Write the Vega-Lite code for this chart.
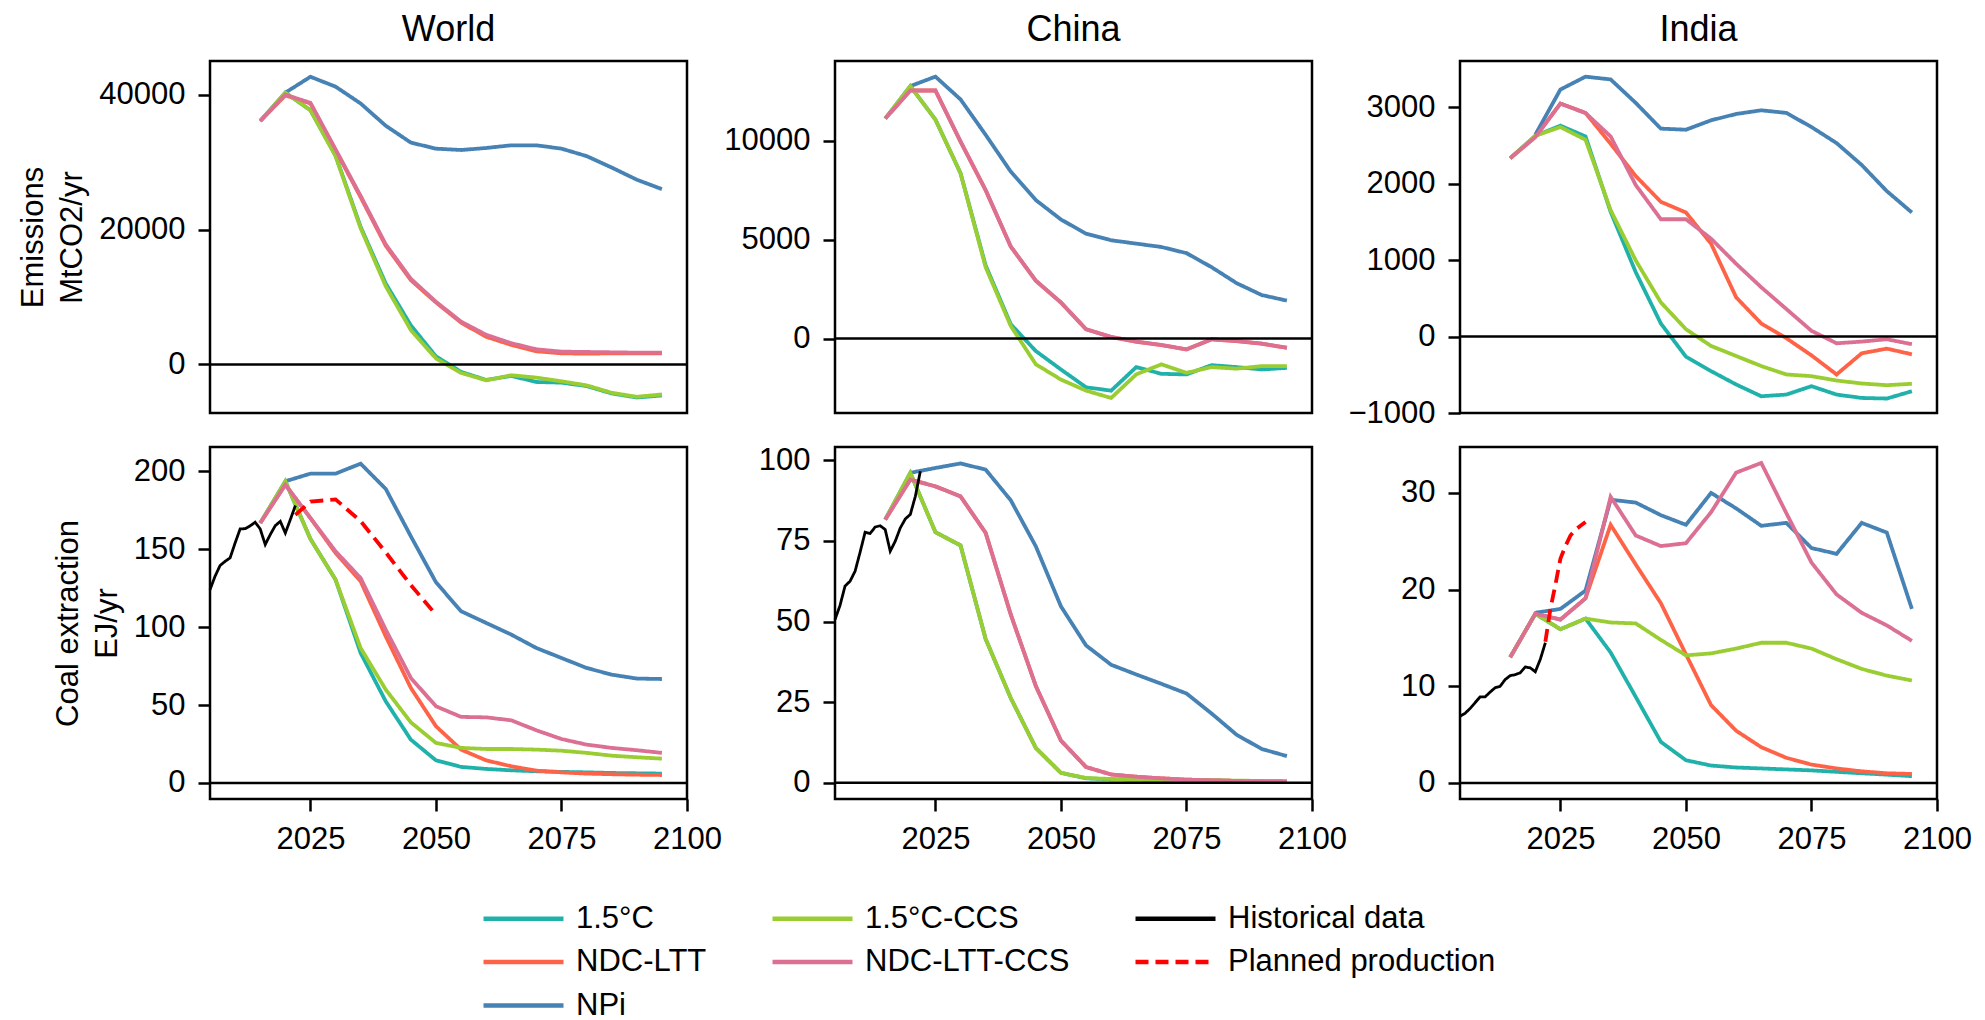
{
"$schema":"https://vega.github.io/schema/vega-lite/v6.json",
"padding":{"left":16,"top":10,"right":5,"bottom":5},
"background":"white",
"config":{
 "font":"Liberation Sans",
 "view":{"stroke":"black","strokeWidth":2.5},
 "axis":{"grid":false,"domain":false,"tickColor":"black","tickWidth":2.5,"tickSize":12,"labelFontSize":31,"labelColor":"black","labelFont":"Liberation Sans","labelPadding":13,"labelFlush":false,"titleFontSize":31,"titleFontWeight":"normal","titleColor":"black","titleFont":"Liberation Sans","titlePadding":10,"titleLineHeight":39,"format":"d"},
 "title":{"fontSize":36,"fontWeight":"normal","color":"black","font":"Liberation Sans","offset":12},
 "legend":{"labelFontSize":31,"labelColor":"black","labelFont":"Liberation Sans","labelLimit":0,"symbolType":"M-4,0H4","symbolSize":400,"symbolStrokeWidth":4.5,"labelOffset":37,"rowPadding":11.5,"columnPadding":56,"padding":0}
},
"datasets":{"d":[
{"region":"World","var":"E","scen":"1.5°C","year":2015,"val":36100},{"region":"World","var":"E","scen":"1.5°C","year":2020,"val":40300},{"region":"World","var":"E","scen":"1.5°C","year":2025,"val":37700},{"region":"World","var":"E","scen":"1.5°C","year":2030,"val":31000},{"region":"World","var":"E","scen":"1.5°C","year":2035,"val":20400},{"region":"World","var":"E","scen":"1.5°C","year":2040,"val":12000},{"region":"World","var":"E","scen":"1.5°C","year":2045,"val":5800},{"region":"World","var":"E","scen":"1.5°C","year":2050,"val":1200},{"region":"World","var":"E","scen":"1.5°C","year":2055,"val":-1100},{"region":"World","var":"E","scen":"1.5°C","year":2060,"val":-2300},{"region":"World","var":"E","scen":"1.5°C","year":2065,"val":-1700},{"region":"World","var":"E","scen":"1.5°C","year":2070,"val":-2600},{"region":"World","var":"E","scen":"1.5°C","year":2075,"val":-2700},{"region":"World","var":"E","scen":"1.5°C","year":2080,"val":-3200},{"region":"World","var":"E","scen":"1.5°C","year":2085,"val":-4300},{"region":"World","var":"E","scen":"1.5°C","year":2090,"val":-4900},{"region":"World","var":"E","scen":"1.5°C","year":2095,"val":-4600},
{"region":"World","var":"E","scen":"NDC-LTT","year":2015,"val":36100},{"region":"World","var":"E","scen":"NDC-LTT","year":2020,"val":39900},{"region":"World","var":"E","scen":"NDC-LTT","year":2025,"val":38700},{"region":"World","var":"E","scen":"NDC-LTT","year":2030,"val":31800},{"region":"World","var":"E","scen":"NDC-LTT","year":2035,"val":24800},{"region":"World","var":"E","scen":"NDC-LTT","year":2040,"val":17600},{"region":"World","var":"E","scen":"NDC-LTT","year":2045,"val":12500},{"region":"World","var":"E","scen":"NDC-LTT","year":2050,"val":9200},{"region":"World","var":"E","scen":"NDC-LTT","year":2055,"val":6200},{"region":"World","var":"E","scen":"NDC-LTT","year":2060,"val":4100},{"region":"World","var":"E","scen":"NDC-LTT","year":2065,"val":2900},{"region":"World","var":"E","scen":"NDC-LTT","year":2070,"val":1950},{"region":"World","var":"E","scen":"NDC-LTT","year":2075,"val":1650},{"region":"World","var":"E","scen":"NDC-LTT","year":2080,"val":1600},{"region":"World","var":"E","scen":"NDC-LTT","year":2085,"val":1650},{"region":"World","var":"E","scen":"NDC-LTT","year":2090,"val":1650},{"region":"World","var":"E","scen":"NDC-LTT","year":2095,"val":1650},
{"region":"World","var":"E","scen":"NPi","year":2020,"val":40300},{"region":"World","var":"E","scen":"NPi","year":2025,"val":42660},{"region":"World","var":"E","scen":"NPi","year":2030,"val":41200},{"region":"World","var":"E","scen":"NPi","year":2035,"val":38700},{"region":"World","var":"E","scen":"NPi","year":2040,"val":35400},{"region":"World","var":"E","scen":"NPi","year":2045,"val":32900},{"region":"World","var":"E","scen":"NPi","year":2050,"val":32000},{"region":"World","var":"E","scen":"NPi","year":2055,"val":31800},{"region":"World","var":"E","scen":"NPi","year":2060,"val":32100},{"region":"World","var":"E","scen":"NPi","year":2065,"val":32500},{"region":"World","var":"E","scen":"NPi","year":2070,"val":32500},{"region":"World","var":"E","scen":"NPi","year":2075,"val":32000},{"region":"World","var":"E","scen":"NPi","year":2080,"val":30900},{"region":"World","var":"E","scen":"NPi","year":2085,"val":29200},{"region":"World","var":"E","scen":"NPi","year":2090,"val":27400},{"region":"World","var":"E","scen":"NPi","year":2095,"val":26000},
{"region":"World","var":"E","scen":"1.5°C-CCS","year":2015,"val":36100},{"region":"World","var":"E","scen":"1.5°C-CCS","year":2020,"val":40300},{"region":"World","var":"E","scen":"1.5°C-CCS","year":2025,"val":37700},{"region":"World","var":"E","scen":"1.5°C-CCS","year":2030,"val":30900},{"region":"World","var":"E","scen":"1.5°C-CCS","year":2035,"val":20200},{"region":"World","var":"E","scen":"1.5°C-CCS","year":2040,"val":11600},{"region":"World","var":"E","scen":"1.5°C-CCS","year":2045,"val":5100},{"region":"World","var":"E","scen":"1.5°C-CCS","year":2050,"val":900},{"region":"World","var":"E","scen":"1.5°C-CCS","year":2055,"val":-1250},{"region":"World","var":"E","scen":"1.5°C-CCS","year":2060,"val":-2350},{"region":"World","var":"E","scen":"1.5°C-CCS","year":2065,"val":-1600},{"region":"World","var":"E","scen":"1.5°C-CCS","year":2070,"val":-1950},{"region":"World","var":"E","scen":"1.5°C-CCS","year":2075,"val":-2500},{"region":"World","var":"E","scen":"1.5°C-CCS","year":2080,"val":-3100},{"region":"World","var":"E","scen":"1.5°C-CCS","year":2085,"val":-4200},{"region":"World","var":"E","scen":"1.5°C-CCS","year":2090,"val":-4800},{"region":"World","var":"E","scen":"1.5°C-CCS","year":2095,"val":-4450},
{"region":"World","var":"E","scen":"NDC-LTT-CCS","year":2015,"val":36100},{"region":"World","var":"E","scen":"NDC-LTT-CCS","year":2020,"val":40000},{"region":"World","var":"E","scen":"NDC-LTT-CCS","year":2025,"val":38800},{"region":"World","var":"E","scen":"NDC-LTT-CCS","year":2030,"val":31900},{"region":"World","var":"E","scen":"NDC-LTT-CCS","year":2035,"val":25000},{"region":"World","var":"E","scen":"NDC-LTT-CCS","year":2040,"val":17800},{"region":"World","var":"E","scen":"NDC-LTT-CCS","year":2045,"val":12700},{"region":"World","var":"E","scen":"NDC-LTT-CCS","year":2050,"val":9300},{"region":"World","var":"E","scen":"NDC-LTT-CCS","year":2055,"val":6350},{"region":"World","var":"E","scen":"NDC-LTT-CCS","year":2060,"val":4400},{"region":"World","var":"E","scen":"NDC-LTT-CCS","year":2065,"val":3150},{"region":"World","var":"E","scen":"NDC-LTT-CCS","year":2070,"val":2250},{"region":"World","var":"E","scen":"NDC-LTT-CCS","year":2075,"val":1900},{"region":"World","var":"E","scen":"NDC-LTT-CCS","year":2080,"val":1850},{"region":"World","var":"E","scen":"NDC-LTT-CCS","year":2085,"val":1800},{"region":"World","var":"E","scen":"NDC-LTT-CCS","year":2090,"val":1750},{"region":"World","var":"E","scen":"NDC-LTT-CCS","year":2095,"val":1750},

{"region":"China","var":"E","scen":"1.5°C","year":2015,"val":11120},{"region":"China","var":"E","scen":"1.5°C","year":2020,"val":12760},{"region":"China","var":"E","scen":"1.5°C","year":2025,"val":11070},{"region":"China","var":"E","scen":"1.5°C","year":2030,"val":8360},{"region":"China","var":"E","scen":"1.5°C","year":2035,"val":3700},{"region":"China","var":"E","scen":"1.5°C","year":2040,"val":730},{"region":"China","var":"E","scen":"1.5°C","year":2045,"val":-630},{"region":"China","var":"E","scen":"1.5°C","year":2050,"val":-1560},{"region":"China","var":"E","scen":"1.5°C","year":2055,"val":-2460},{"region":"China","var":"E","scen":"1.5°C","year":2060,"val":-2630},{"region":"China","var":"E","scen":"1.5°C","year":2065,"val":-1440},{"region":"China","var":"E","scen":"1.5°C","year":2070,"val":-1780},{"region":"China","var":"E","scen":"1.5°C","year":2075,"val":-1810},{"region":"China","var":"E","scen":"1.5°C","year":2080,"val":-1340},{"region":"China","var":"E","scen":"1.5°C","year":2085,"val":-1440},{"region":"China","var":"E","scen":"1.5°C","year":2090,"val":-1560},{"region":"China","var":"E","scen":"1.5°C","year":2095,"val":-1480},
{"region":"China","var":"E","scen":"NDC-LTT","year":2015,"val":11120},{"region":"China","var":"E","scen":"NDC-LTT","year":2020,"val":12540},{"region":"China","var":"E","scen":"NDC-LTT","year":2025,"val":12540},{"region":"China","var":"E","scen":"NDC-LTT","year":2030,"val":9950},{"region":"China","var":"E","scen":"NDC-LTT","year":2035,"val":7500},{"region":"China","var":"E","scen":"NDC-LTT","year":2040,"val":4650},{"region":"China","var":"E","scen":"NDC-LTT","year":2045,"val":2920},{"region":"China","var":"E","scen":"NDC-LTT","year":2050,"val":1820},{"region":"China","var":"E","scen":"NDC-LTT","year":2055,"val":470},{"region":"China","var":"E","scen":"NDC-LTT","year":2060,"val":80},{"region":"China","var":"E","scen":"NDC-LTT","year":2065,"val":-160},{"region":"China","var":"E","scen":"NDC-LTT","year":2070,"val":-330},{"region":"China","var":"E","scen":"NDC-LTT","year":2075,"val":-550},{"region":"China","var":"E","scen":"NDC-LTT","year":2080,"val":-40},{"region":"China","var":"E","scen":"NDC-LTT","year":2085,"val":-130},{"region":"China","var":"E","scen":"NDC-LTT","year":2090,"val":-260},{"region":"China","var":"E","scen":"NDC-LTT","year":2095,"val":-470},
{"region":"China","var":"E","scen":"NPi","year":2020,"val":12760},{"region":"China","var":"E","scen":"NPi","year":2025,"val":13240},{"region":"China","var":"E","scen":"NPi","year":2030,"val":12090},{"region":"China","var":"E","scen":"NPi","year":2035,"val":10300},{"region":"China","var":"E","scen":"NPi","year":2040,"val":8440},{"region":"China","var":"E","scen":"NPi","year":2045,"val":7000},{"region":"China","var":"E","scen":"NPi","year":2050,"val":6020},{"region":"China","var":"E","scen":"NPi","year":2055,"val":5300},{"region":"China","var":"E","scen":"NPi","year":2060,"val":4970},{"region":"China","var":"E","scen":"NPi","year":2065,"val":4800},{"region":"China","var":"E","scen":"NPi","year":2070,"val":4630},{"region":"China","var":"E","scen":"NPi","year":2075,"val":4320},{"region":"China","var":"E","scen":"NPi","year":2080,"val":3610},{"region":"China","var":"E","scen":"NPi","year":2085,"val":2800},{"region":"China","var":"E","scen":"NPi","year":2090,"val":2200},{"region":"China","var":"E","scen":"NPi","year":2095,"val":1920},
{"region":"China","var":"E","scen":"1.5°C-CCS","year":2015,"val":11120},{"region":"China","var":"E","scen":"1.5°C-CCS","year":2020,"val":12760},{"region":"China","var":"E","scen":"1.5°C-CCS","year":2025,"val":11070},{"region":"China","var":"E","scen":"1.5°C-CCS","year":2030,"val":8360},{"region":"China","var":"E","scen":"1.5°C-CCS","year":2035,"val":3610},{"region":"China","var":"E","scen":"1.5°C-CCS","year":2040,"val":640},{"region":"China","var":"E","scen":"1.5°C-CCS","year":2045,"val":-1300},{"region":"China","var":"E","scen":"1.5°C-CCS","year":2050,"val":-2070},{"region":"China","var":"E","scen":"1.5°C-CCS","year":2055,"val":-2630},{"region":"China","var":"E","scen":"1.5°C-CCS","year":2060,"val":-3000},{"region":"China","var":"E","scen":"1.5°C-CCS","year":2065,"val":-1810},{"region":"China","var":"E","scen":"1.5°C-CCS","year":2070,"val":-1300},{"region":"China","var":"E","scen":"1.5°C-CCS","year":2075,"val":-1730},{"region":"China","var":"E","scen":"1.5°C-CCS","year":2080,"val":-1440},{"region":"China","var":"E","scen":"1.5°C-CCS","year":2085,"val":-1520},{"region":"China","var":"E","scen":"1.5°C-CCS","year":2090,"val":-1390},{"region":"China","var":"E","scen":"1.5°C-CCS","year":2095,"val":-1390},
{"region":"China","var":"E","scen":"NDC-LTT-CCS","year":2015,"val":11120},{"region":"China","var":"E","scen":"NDC-LTT-CCS","year":2020,"val":12540},{"region":"China","var":"E","scen":"NDC-LTT-CCS","year":2025,"val":12540},{"region":"China","var":"E","scen":"NDC-LTT-CCS","year":2030,"val":9970},{"region":"China","var":"E","scen":"NDC-LTT-CCS","year":2035,"val":7510},{"region":"China","var":"E","scen":"NDC-LTT-CCS","year":2040,"val":4660},{"region":"China","var":"E","scen":"NDC-LTT-CCS","year":2045,"val":2930},{"region":"China","var":"E","scen":"NDC-LTT-CCS","year":2050,"val":1830},{"region":"China","var":"E","scen":"NDC-LTT-CCS","year":2055,"val":475},{"region":"China","var":"E","scen":"NDC-LTT-CCS","year":2060,"val":85},{"region":"China","var":"E","scen":"NDC-LTT-CCS","year":2065,"val":-150},{"region":"China","var":"E","scen":"NDC-LTT-CCS","year":2070,"val":-320},{"region":"China","var":"E","scen":"NDC-LTT-CCS","year":2075,"val":-540},{"region":"China","var":"E","scen":"NDC-LTT-CCS","year":2080,"val":-35},{"region":"China","var":"E","scen":"NDC-LTT-CCS","year":2085,"val":-120},{"region":"China","var":"E","scen":"NDC-LTT-CCS","year":2090,"val":-250},{"region":"China","var":"E","scen":"NDC-LTT-CCS","year":2095,"val":-460},

{"region":"India","var":"E","scen":"1.5°C","year":2015,"val":2333},{"region":"India","var":"E","scen":"1.5°C","year":2020,"val":2627},{"region":"India","var":"E","scen":"1.5°C","year":2025,"val":2759},{"region":"India","var":"E","scen":"1.5°C","year":2030,"val":2618},{"region":"India","var":"E","scen":"1.5°C","year":2035,"val":1632},{"region":"India","var":"E","scen":"1.5°C","year":2040,"val":842},{"region":"India","var":"E","scen":"1.5°C","year":2045,"val":171},{"region":"India","var":"E","scen":"1.5°C","year":2050,"val":-263},{"region":"India","var":"E","scen":"1.5°C","year":2055,"val":-452},{"region":"India","var":"E","scen":"1.5°C","year":2060,"val":-627},{"region":"India","var":"E","scen":"1.5°C","year":2065,"val":-781},{"region":"India","var":"E","scen":"1.5°C","year":2070,"val":-759},{"region":"India","var":"E","scen":"1.5°C","year":2075,"val":-649},{"region":"India","var":"E","scen":"1.5°C","year":2080,"val":-759},{"region":"India","var":"E","scen":"1.5°C","year":2085,"val":-803},{"region":"India","var":"E","scen":"1.5°C","year":2090,"val":-811},{"region":"India","var":"E","scen":"1.5°C","year":2095,"val":-715},
{"region":"India","var":"E","scen":"NDC-LTT","year":2015,"val":2333},{"region":"India","var":"E","scen":"NDC-LTT","year":2020,"val":2610},{"region":"India","var":"E","scen":"NDC-LTT","year":2025,"val":3048},{"region":"India","var":"E","scen":"NDC-LTT","year":2030,"val":2925},{"region":"India","var":"E","scen":"NDC-LTT","year":2035,"val":2522},{"region":"India","var":"E","scen":"NDC-LTT","year":2040,"val":2100},{"region":"India","var":"E","scen":"NDC-LTT","year":2045,"val":1763},{"region":"India","var":"E","scen":"NDC-LTT","year":2050,"val":1623},{"region":"India","var":"E","scen":"NDC-LTT","year":2055,"val":1215},{"region":"India","var":"E","scen":"NDC-LTT","year":2060,"val":513},{"region":"India","var":"E","scen":"NDC-LTT","year":2065,"val":171},{"region":"India","var":"E","scen":"NDC-LTT","year":2070,"val":-22},{"region":"India","var":"E","scen":"NDC-LTT","year":2075,"val":-246},{"region":"India","var":"E","scen":"NDC-LTT","year":2080,"val":-496},{"region":"India","var":"E","scen":"NDC-LTT","year":2085,"val":-219},{"region":"India","var":"E","scen":"NDC-LTT","year":2090,"val":-158},{"region":"India","var":"E","scen":"NDC-LTT","year":2095,"val":-232},
{"region":"India","var":"E","scen":"NPi","year":2020,"val":2640},{"region":"India","var":"E","scen":"NPi","year":2025,"val":3232},{"region":"India","var":"E","scen":"NPi","year":2030,"val":3400},{"region":"India","var":"E","scen":"NPi","year":2035,"val":3364},{"region":"India","var":"E","scen":"NPi","year":2040,"val":3057},{"region":"India","var":"E","scen":"NPi","year":2045,"val":2720},{"region":"India","var":"E","scen":"NPi","year":2050,"val":2706},{"region":"India","var":"E","scen":"NPi","year":2055,"val":2829},{"region":"India","var":"E","scen":"NPi","year":2060,"val":2912},{"region":"India","var":"E","scen":"NPi","year":2065,"val":2960},{"region":"India","var":"E","scen":"NPi","year":2070,"val":2926},{"region":"India","var":"E","scen":"NPi","year":2075,"val":2741},{"region":"India","var":"E","scen":"NPi","year":2080,"val":2531},{"region":"India","var":"E","scen":"NPi","year":2085,"val":2245},{"region":"India","var":"E","scen":"NPi","year":2090,"val":1903},{"region":"India","var":"E","scen":"NPi","year":2095,"val":1623},
{"region":"India","var":"E","scen":"1.5°C-CCS","year":2015,"val":2333},{"region":"India","var":"E","scen":"1.5°C-CCS","year":2020,"val":2627},{"region":"India","var":"E","scen":"1.5°C-CCS","year":2025,"val":2741},{"region":"India","var":"E","scen":"1.5°C-CCS","year":2030,"val":2575},{"region":"India","var":"E","scen":"1.5°C-CCS","year":2035,"val":1654},{"region":"India","var":"E","scen":"1.5°C-CCS","year":2040,"val":996},{"region":"India","var":"E","scen":"1.5°C-CCS","year":2045,"val":447},{"region":"India","var":"E","scen":"1.5°C-CCS","year":2050,"val":96},{"region":"India","var":"E","scen":"1.5°C-CCS","year":2055,"val":-123},{"region":"India","var":"E","scen":"1.5°C-CCS","year":2060,"val":-254},{"region":"India","var":"E","scen":"1.5°C-CCS","year":2065,"val":-386},{"region":"India","var":"E","scen":"1.5°C-CCS","year":2070,"val":-496},{"region":"India","var":"E","scen":"1.5°C-CCS","year":2075,"val":-518},{"region":"India","var":"E","scen":"1.5°C-CCS","year":2080,"val":-575},{"region":"India","var":"E","scen":"1.5°C-CCS","year":2085,"val":-614},{"region":"India","var":"E","scen":"1.5°C-CCS","year":2090,"val":-636},{"region":"India","var":"E","scen":"1.5°C-CCS","year":2095,"val":-618},
{"region":"India","var":"E","scen":"NDC-LTT-CCS","year":2015,"val":2333},{"region":"India","var":"E","scen":"NDC-LTT-CCS","year":2020,"val":2610},{"region":"India","var":"E","scen":"NDC-LTT-CCS","year":2025,"val":3048},{"region":"India","var":"E","scen":"NDC-LTT-CCS","year":2030,"val":2925},{"region":"India","var":"E","scen":"NDC-LTT-CCS","year":2035,"val":2618},{"region":"India","var":"E","scen":"NDC-LTT-CCS","year":2040,"val":1982},{"region":"India","var":"E","scen":"NDC-LTT-CCS","year":2045,"val":1535},{"region":"India","var":"E","scen":"NDC-LTT-CCS","year":2050,"val":1535},{"region":"India","var":"E","scen":"NDC-LTT-CCS","year":2055,"val":1281},{"region":"India","var":"E","scen":"NDC-LTT-CCS","year":2060,"val":952},{"region":"India","var":"E","scen":"NDC-LTT-CCS","year":2065,"val":645},{"region":"India","var":"E","scen":"NDC-LTT-CCS","year":2070,"val":360},{"region":"India","var":"E","scen":"NDC-LTT-CCS","year":2075,"val":75},{"region":"India","var":"E","scen":"NDC-LTT-CCS","year":2080,"val":-88},{"region":"India","var":"E","scen":"NDC-LTT-CCS","year":2085,"val":-66},{"region":"India","var":"E","scen":"NDC-LTT-CCS","year":2090,"val":-35},{"region":"India","var":"E","scen":"NDC-LTT-CCS","year":2095,"val":-100},

{"region":"World","var":"C","scen":"1.5°C","year":2015,"val":166.8},{"region":"World","var":"C","scen":"1.5°C","year":2020,"val":193.6},{"region":"World","var":"C","scen":"1.5°C","year":2025,"val":156.6},{"region":"World","var":"C","scen":"1.5°C","year":2030,"val":130.5},{"region":"World","var":"C","scen":"1.5°C","year":2035,"val":83.4},{"region":"World","var":"C","scen":"1.5°C","year":2040,"val":52.4},{"region":"World","var":"C","scen":"1.5°C","year":2045,"val":27.8},{"region":"World","var":"C","scen":"1.5°C","year":2050,"val":14.5},{"region":"World","var":"C","scen":"1.5°C","year":2055,"val":10.3},{"region":"World","var":"C","scen":"1.5°C","year":2060,"val":9},{"region":"World","var":"C","scen":"1.5°C","year":2065,"val":8.1},{"region":"World","var":"C","scen":"1.5°C","year":2070,"val":7.5},{"region":"World","var":"C","scen":"1.5°C","year":2075,"val":7.1},{"region":"World","var":"C","scen":"1.5°C","year":2080,"val":6.8},{"region":"World","var":"C","scen":"1.5°C","year":2085,"val":6.4},{"region":"World","var":"C","scen":"1.5°C","year":2090,"val":6.2},{"region":"World","var":"C","scen":"1.5°C","year":2095,"val":6},
{"region":"World","var":"C","scen":"NDC-LTT","year":2015,"val":166.8},{"region":"World","var":"C","scen":"NDC-LTT","year":2020,"val":191.4},{"region":"World","var":"C","scen":"NDC-LTT","year":2025,"val":170},{"region":"World","var":"C","scen":"NDC-LTT","year":2030,"val":147.6},{"region":"World","var":"C","scen":"NDC-LTT","year":2035,"val":129.4},{"region":"World","var":"C","scen":"NDC-LTT","year":2040,"val":94.1},{"region":"World","var":"C","scen":"NDC-LTT","year":2045,"val":61},{"region":"World","var":"C","scen":"NDC-LTT","year":2050,"val":36.4},{"region":"World","var":"C","scen":"NDC-LTT","year":2055,"val":21.4},{"region":"World","var":"C","scen":"NDC-LTT","year":2060,"val":14.5},{"region":"World","var":"C","scen":"NDC-LTT","year":2065,"val":10.7},{"region":"World","var":"C","scen":"NDC-LTT","year":2070,"val":7.9},{"region":"World","var":"C","scen":"NDC-LTT","year":2075,"val":6.8},{"region":"World","var":"C","scen":"NDC-LTT","year":2080,"val":6},{"region":"World","var":"C","scen":"NDC-LTT","year":2085,"val":5.6},{"region":"World","var":"C","scen":"NDC-LTT","year":2090,"val":5.3},{"region":"World","var":"C","scen":"NDC-LTT","year":2095,"val":5.1},
{"region":"World","var":"C","scen":"NPi","year":2020,"val":193.6},{"region":"World","var":"C","scen":"NPi","year":2025,"val":198.5},{"region":"World","var":"C","scen":"NPi","year":2030,"val":198.5},{"region":"World","var":"C","scen":"NPi","year":2035,"val":204.9},{"region":"World","var":"C","scen":"NPi","year":2040,"val":188.7},{"region":"World","var":"C","scen":"NPi","year":2045,"val":158.3},{"region":"World","var":"C","scen":"NPi","year":2050,"val":128.8},{"region":"World","var":"C","scen":"NPi","year":2055,"val":110.2},{"region":"World","var":"C","scen":"NPi","year":2060,"val":102.7},{"region":"World","var":"C","scen":"NPi","year":2065,"val":95.2},{"region":"World","var":"C","scen":"NPi","year":2070,"val":86.6},{"region":"World","var":"C","scen":"NPi","year":2075,"val":80.2},{"region":"World","var":"C","scen":"NPi","year":2080,"val":73.8},{"region":"World","var":"C","scen":"NPi","year":2085,"val":69.5},{"region":"World","var":"C","scen":"NPi","year":2090,"val":67},{"region":"World","var":"C","scen":"NPi","year":2095,"val":66.7},
{"region":"World","var":"C","scen":"1.5°C-CCS","year":2015,"val":166.8},{"region":"World","var":"C","scen":"1.5°C-CCS","year":2020,"val":193.6},{"region":"World","var":"C","scen":"1.5°C-CCS","year":2025,"val":156.6},{"region":"World","var":"C","scen":"1.5°C-CCS","year":2030,"val":130.5},{"region":"World","var":"C","scen":"1.5°C-CCS","year":2035,"val":86.6},{"region":"World","var":"C","scen":"1.5°C-CCS","year":2040,"val":59.9},{"region":"World","var":"C","scen":"1.5°C-CCS","year":2045,"val":38.9},{"region":"World","var":"C","scen":"1.5°C-CCS","year":2050,"val":25.7},{"region":"World","var":"C","scen":"1.5°C-CCS","year":2055,"val":22.5},{"region":"World","var":"C","scen":"1.5°C-CCS","year":2060,"val":21.8},{"region":"World","var":"C","scen":"1.5°C-CCS","year":2065,"val":21.8},{"region":"World","var":"C","scen":"1.5°C-CCS","year":2070,"val":21.4},{"region":"World","var":"C","scen":"1.5°C-CCS","year":2075,"val":20.7},{"region":"World","var":"C","scen":"1.5°C-CCS","year":2080,"val":19.3},{"region":"World","var":"C","scen":"1.5°C-CCS","year":2085,"val":17.5},{"region":"World","var":"C","scen":"1.5°C-CCS","year":2090,"val":16.5},{"region":"World","var":"C","scen":"1.5°C-CCS","year":2095,"val":15.6},
{"region":"World","var":"C","scen":"NDC-LTT-CCS","year":2015,"val":166.8},{"region":"World","var":"C","scen":"NDC-LTT-CCS","year":2020,"val":191.4},{"region":"World","var":"C","scen":"NDC-LTT-CCS","year":2025,"val":170},{"region":"World","var":"C","scen":"NDC-LTT-CCS","year":2030,"val":148.7},{"region":"World","var":"C","scen":"NDC-LTT-CCS","year":2035,"val":131.5},{"region":"World","var":"C","scen":"NDC-LTT-CCS","year":2040,"val":98.4},{"region":"World","var":"C","scen":"NDC-LTT-CCS","year":2045,"val":67.4},{"region":"World","var":"C","scen":"NDC-LTT-CCS","year":2050,"val":49.2},{"region":"World","var":"C","scen":"NDC-LTT-CCS","year":2055,"val":42.4},{"region":"World","var":"C","scen":"NDC-LTT-CCS","year":2060,"val":42.1},{"region":"World","var":"C","scen":"NDC-LTT-CCS","year":2065,"val":40.2},{"region":"World","var":"C","scen":"NDC-LTT-CCS","year":2070,"val":33.8},{"region":"World","var":"C","scen":"NDC-LTT-CCS","year":2075,"val":28.2},{"region":"World","var":"C","scen":"NDC-LTT-CCS","year":2080,"val":24.6},{"region":"World","var":"C","scen":"NDC-LTT-CCS","year":2085,"val":22.5},{"region":"World","var":"C","scen":"NDC-LTT-CCS","year":2090,"val":21},{"region":"World","var":"C","scen":"NDC-LTT-CCS","year":2095,"val":19.3},
{"region":"World","var":"C","scen":"Historical data","year":2005,"val":124},{"region":"World","var":"C","scen":"Historical data","year":2006,"val":132.6},{"region":"World","var":"C","scen":"Historical data","year":2007,"val":139.5},{"region":"World","var":"C","scen":"Historical data","year":2008,"val":142.2},{"region":"World","var":"C","scen":"Historical data","year":2009,"val":144.4},{"region":"World","var":"C","scen":"Historical data","year":2010,"val":154},{"region":"World","var":"C","scen":"Historical data","year":2011,"val":163},{"region":"World","var":"C","scen":"Historical data","year":2012,"val":163.2},{"region":"World","var":"C","scen":"Historical data","year":2013,"val":165},{"region":"World","var":"C","scen":"Historical data","year":2014,"val":167.3},{"region":"World","var":"C","scen":"Historical data","year":2015,"val":163},{"region":"World","var":"C","scen":"Historical data","year":2016,"val":153},{"region":"World","var":"C","scen":"Historical data","year":2017,"val":159.4},{"region":"World","var":"C","scen":"Historical data","year":2018,"val":165.1},{"region":"World","var":"C","scen":"Historical data","year":2019,"val":167.9},{"region":"World","var":"C","scen":"Historical data","year":2020,"val":160.4},{"region":"World","var":"C","scen":"Historical data","year":2021,"val":169},{"region":"World","var":"C","scen":"Historical data","year":2022,"val":178},
{"region":"World","var":"C","scen":"Planned production","year":2022,"val":172},{"region":"World","var":"C","scen":"Planned production","year":2025,"val":180.5},{"region":"World","var":"C","scen":"Planned production","year":2030,"val":182},{"region":"World","var":"C","scen":"Planned production","year":2035,"val":168},{"region":"World","var":"C","scen":"Planned production","year":2040,"val":148},{"region":"World","var":"C","scen":"Planned production","year":2045,"val":127},{"region":"World","var":"C","scen":"Planned production","year":2050,"val":108},

{"region":"China","var":"C","scen":"1.5°C","year":2015,"val":81.6},{"region":"China","var":"C","scen":"1.5°C","year":2020,"val":96.1},{"region":"China","var":"C","scen":"1.5°C","year":2025,"val":77.7},{"region":"China","var":"C","scen":"1.5°C","year":2030,"val":73.6},{"region":"China","var":"C","scen":"1.5°C","year":2035,"val":44.6},{"region":"China","var":"C","scen":"1.5°C","year":2040,"val":26.3},{"region":"China","var":"C","scen":"1.5°C","year":2045,"val":10.8},{"region":"China","var":"C","scen":"1.5°C","year":2050,"val":3.1},{"region":"China","var":"C","scen":"1.5°C","year":2055,"val":1.4},{"region":"China","var":"C","scen":"1.5°C","year":2060,"val":1.1},{"region":"China","var":"C","scen":"1.5°C","year":2065,"val":1.0},{"region":"China","var":"C","scen":"1.5°C","year":2070,"val":0.9},{"region":"China","var":"C","scen":"1.5°C","year":2075,"val":0.8},{"region":"China","var":"C","scen":"1.5°C","year":2080,"val":0.7},{"region":"China","var":"C","scen":"1.5°C","year":2085,"val":0.6},{"region":"China","var":"C","scen":"1.5°C","year":2090,"val":0.5},{"region":"China","var":"C","scen":"1.5°C","year":2095,"val":0.4},
{"region":"China","var":"C","scen":"NDC-LTT","year":2015,"val":81.6},{"region":"China","var":"C","scen":"NDC-LTT","year":2020,"val":94},{"region":"China","var":"C","scen":"NDC-LTT","year":2025,"val":91.9},{"region":"China","var":"C","scen":"NDC-LTT","year":2030,"val":88.8},{"region":"China","var":"C","scen":"NDC-LTT","year":2035,"val":77.5},{"region":"China","var":"C","scen":"NDC-LTT","year":2040,"val":52.2},{"region":"China","var":"C","scen":"NDC-LTT","year":2045,"val":30},{"region":"China","var":"C","scen":"NDC-LTT","year":2050,"val":13.1},{"region":"China","var":"C","scen":"NDC-LTT","year":2055,"val":4.9},{"region":"China","var":"C","scen":"NDC-LTT","year":2060,"val":2.6},{"region":"China","var":"C","scen":"NDC-LTT","year":2065,"val":1.9},{"region":"China","var":"C","scen":"NDC-LTT","year":2070,"val":1.4},{"region":"China","var":"C","scen":"NDC-LTT","year":2075,"val":1},{"region":"China","var":"C","scen":"NDC-LTT","year":2080,"val":0.8},{"region":"China","var":"C","scen":"NDC-LTT","year":2085,"val":0.6},{"region":"China","var":"C","scen":"NDC-LTT","year":2090,"val":0.5},{"region":"China","var":"C","scen":"NDC-LTT","year":2095,"val":0.4},
{"region":"China","var":"C","scen":"NPi","year":2020,"val":96.1},{"region":"China","var":"C","scen":"NPi","year":2025,"val":97.6},{"region":"China","var":"C","scen":"NPi","year":2030,"val":99},{"region":"China","var":"C","scen":"NPi","year":2035,"val":97.1},{"region":"China","var":"C","scen":"NPi","year":2040,"val":87.6},{"region":"China","var":"C","scen":"NPi","year":2045,"val":73.3},{"region":"China","var":"C","scen":"NPi","year":2050,"val":54.7},{"region":"China","var":"C","scen":"NPi","year":2055,"val":42.6},{"region":"China","var":"C","scen":"NPi","year":2060,"val":36.6},{"region":"China","var":"C","scen":"NPi","year":2065,"val":33.6},{"region":"China","var":"C","scen":"NPi","year":2070,"val":30.7},{"region":"China","var":"C","scen":"NPi","year":2075,"val":27.7},{"region":"China","var":"C","scen":"NPi","year":2080,"val":21.5},{"region":"China","var":"C","scen":"NPi","year":2085,"val":14.9},{"region":"China","var":"C","scen":"NPi","year":2090,"val":10.5},{"region":"China","var":"C","scen":"NPi","year":2095,"val":8.3},
{"region":"China","var":"C","scen":"1.5°C-CCS","year":2015,"val":81.6},{"region":"China","var":"C","scen":"1.5°C-CCS","year":2020,"val":96.1},{"region":"China","var":"C","scen":"1.5°C-CCS","year":2025,"val":77.7},{"region":"China","var":"C","scen":"1.5°C-CCS","year":2030,"val":73.6},{"region":"China","var":"C","scen":"1.5°C-CCS","year":2035,"val":44.6},{"region":"China","var":"C","scen":"1.5°C-CCS","year":2040,"val":26.3},{"region":"China","var":"C","scen":"1.5°C-CCS","year":2045,"val":10.8},{"region":"China","var":"C","scen":"1.5°C-CCS","year":2050,"val":3.1},{"region":"China","var":"C","scen":"1.5°C-CCS","year":2055,"val":1.5},{"region":"China","var":"C","scen":"1.5°C-CCS","year":2060,"val":1.2},{"region":"China","var":"C","scen":"1.5°C-CCS","year":2065,"val":1.1},{"region":"China","var":"C","scen":"1.5°C-CCS","year":2070,"val":1},{"region":"China","var":"C","scen":"1.5°C-CCS","year":2075,"val":0.9},{"region":"China","var":"C","scen":"1.5°C-CCS","year":2080,"val":0.8},{"region":"China","var":"C","scen":"1.5°C-CCS","year":2085,"val":0.7},{"region":"China","var":"C","scen":"1.5°C-CCS","year":2090,"val":0.6},{"region":"China","var":"C","scen":"1.5°C-CCS","year":2095,"val":0.5},
{"region":"China","var":"C","scen":"NDC-LTT-CCS","year":2015,"val":81.6},{"region":"China","var":"C","scen":"NDC-LTT-CCS","year":2020,"val":94},{"region":"China","var":"C","scen":"NDC-LTT-CCS","year":2025,"val":91.9},{"region":"China","var":"C","scen":"NDC-LTT-CCS","year":2030,"val":88.8},{"region":"China","var":"C","scen":"NDC-LTT-CCS","year":2035,"val":77.5},{"region":"China","var":"C","scen":"NDC-LTT-CCS","year":2040,"val":52.2},{"region":"China","var":"C","scen":"NDC-LTT-CCS","year":2045,"val":30},{"region":"China","var":"C","scen":"NDC-LTT-CCS","year":2050,"val":13.1},{"region":"China","var":"C","scen":"NDC-LTT-CCS","year":2055,"val":4.9},{"region":"China","var":"C","scen":"NDC-LTT-CCS","year":2060,"val":2.6},{"region":"China","var":"C","scen":"NDC-LTT-CCS","year":2065,"val":1.9},{"region":"China","var":"C","scen":"NDC-LTT-CCS","year":2070,"val":1.4},{"region":"China","var":"C","scen":"NDC-LTT-CCS","year":2075,"val":1},{"region":"China","var":"C","scen":"NDC-LTT-CCS","year":2080,"val":0.8},{"region":"China","var":"C","scen":"NDC-LTT-CCS","year":2085,"val":0.6},{"region":"China","var":"C","scen":"NDC-LTT-CCS","year":2090,"val":0.5},{"region":"China","var":"C","scen":"NDC-LTT-CCS","year":2095,"val":0.4},
{"region":"China","var":"C","scen":"Historical data","year":2005,"val":50.6},{"region":"China","var":"C","scen":"Historical data","year":2006,"val":55},{"region":"China","var":"C","scen":"Historical data","year":2007,"val":61},{"region":"China","var":"C","scen":"Historical data","year":2008,"val":62.5},{"region":"China","var":"C","scen":"Historical data","year":2009,"val":65.6},{"region":"China","var":"C","scen":"Historical data","year":2010,"val":71.5},{"region":"China","var":"C","scen":"Historical data","year":2011,"val":77.7},{"region":"China","var":"C","scen":"Historical data","year":2012,"val":77.3},{"region":"China","var":"C","scen":"Historical data","year":2013,"val":79.3},{"region":"China","var":"C","scen":"Historical data","year":2014,"val":79.7},{"region":"China","var":"C","scen":"Historical data","year":2015,"val":78.5},{"region":"China","var":"C","scen":"Historical data","year":2016,"val":71.8},{"region":"China","var":"C","scen":"Historical data","year":2017,"val":74.9},{"region":"China","var":"C","scen":"Historical data","year":2018,"val":79},{"region":"China","var":"C","scen":"Historical data","year":2019,"val":81.8},{"region":"China","var":"C","scen":"Historical data","year":2020,"val":83.2},{"region":"China","var":"C","scen":"Historical data","year":2021,"val":88.8},{"region":"China","var":"C","scen":"Historical data","year":2022,"val":96.6},

{"region":"India","var":"C","scen":"1.5°C","year":2015,"val":13},{"region":"India","var":"C","scen":"1.5°C","year":2020,"val":17.5},{"region":"India","var":"C","scen":"1.5°C","year":2025,"val":15.9},{"region":"India","var":"C","scen":"1.5°C","year":2030,"val":17},{"region":"India","var":"C","scen":"1.5°C","year":2035,"val":13.5},{"region":"India","var":"C","scen":"1.5°C","year":2040,"val":8.9},{"region":"India","var":"C","scen":"1.5°C","year":2045,"val":4.25},{"region":"India","var":"C","scen":"1.5°C","year":2050,"val":2.35},{"region":"India","var":"C","scen":"1.5°C","year":2055,"val":1.8},{"region":"India","var":"C","scen":"1.5°C","year":2060,"val":1.6},{"region":"India","var":"C","scen":"1.5°C","year":2065,"val":1.5},{"region":"India","var":"C","scen":"1.5°C","year":2070,"val":1.4},{"region":"India","var":"C","scen":"1.5°C","year":2075,"val":1.3},{"region":"India","var":"C","scen":"1.5°C","year":2080,"val":1.15},{"region":"India","var":"C","scen":"1.5°C","year":2085,"val":1.0},{"region":"India","var":"C","scen":"1.5°C","year":2090,"val":0.86},{"region":"India","var":"C","scen":"1.5°C","year":2095,"val":0.7},
{"region":"India","var":"C","scen":"NDC-LTT","year":2015,"val":13},{"region":"India","var":"C","scen":"NDC-LTT","year":2020,"val":17.5},{"region":"India","var":"C","scen":"NDC-LTT","year":2025,"val":16.9},{"region":"India","var":"C","scen":"NDC-LTT","year":2030,"val":19.1},{"region":"India","var":"C","scen":"NDC-LTT","year":2035,"val":26.7},{"region":"India","var":"C","scen":"NDC-LTT","year":2040,"val":22.6},{"region":"India","var":"C","scen":"NDC-LTT","year":2045,"val":18.6},{"region":"India","var":"C","scen":"NDC-LTT","year":2050,"val":13.3},{"region":"India","var":"C","scen":"NDC-LTT","year":2055,"val":8.05},{"region":"India","var":"C","scen":"NDC-LTT","year":2060,"val":5.4},{"region":"India","var":"C","scen":"NDC-LTT","year":2065,"val":3.7},{"region":"India","var":"C","scen":"NDC-LTT","year":2070,"val":2.6},{"region":"India","var":"C","scen":"NDC-LTT","year":2075,"val":1.9},{"region":"India","var":"C","scen":"NDC-LTT","year":2080,"val":1.5},{"region":"India","var":"C","scen":"NDC-LTT","year":2085,"val":1.2},{"region":"India","var":"C","scen":"NDC-LTT","year":2090,"val":1.0},{"region":"India","var":"C","scen":"NDC-LTT","year":2095,"val":0.93},
{"region":"India","var":"C","scen":"NPi","year":2020,"val":17.6},{"region":"India","var":"C","scen":"NPi","year":2025,"val":18},{"region":"India","var":"C","scen":"NPi","year":2030,"val":19.9},{"region":"India","var":"C","scen":"NPi","year":2035,"val":29.3},{"region":"India","var":"C","scen":"NPi","year":2040,"val":29},{"region":"India","var":"C","scen":"NPi","year":2045,"val":27.7},{"region":"India","var":"C","scen":"NPi","year":2050,"val":26.7},{"region":"India","var":"C","scen":"NPi","year":2055,"val":30},{"region":"India","var":"C","scen":"NPi","year":2060,"val":28.4},{"region":"India","var":"C","scen":"NPi","year":2065,"val":26.6},{"region":"India","var":"C","scen":"NPi","year":2070,"val":26.9},{"region":"India","var":"C","scen":"NPi","year":2075,"val":24.3},{"region":"India","var":"C","scen":"NPi","year":2080,"val":23.7},{"region":"India","var":"C","scen":"NPi","year":2085,"val":26.9},{"region":"India","var":"C","scen":"NPi","year":2090,"val":25.9},{"region":"India","var":"C","scen":"NPi","year":2095,"val":18},
{"region":"India","var":"C","scen":"1.5°C-CCS","year":2015,"val":13},{"region":"India","var":"C","scen":"1.5°C-CCS","year":2020,"val":17.5},{"region":"India","var":"C","scen":"1.5°C-CCS","year":2025,"val":15.9},{"region":"India","var":"C","scen":"1.5°C-CCS","year":2030,"val":17},{"region":"India","var":"C","scen":"1.5°C-CCS","year":2035,"val":16.6},{"region":"India","var":"C","scen":"1.5°C-CCS","year":2040,"val":16.5},{"region":"India","var":"C","scen":"1.5°C-CCS","year":2045,"val":14.8},{"region":"India","var":"C","scen":"1.5°C-CCS","year":2050,"val":13.2},{"region":"India","var":"C","scen":"1.5°C-CCS","year":2055,"val":13.4},{"region":"India","var":"C","scen":"1.5°C-CCS","year":2060,"val":13.9},{"region":"India","var":"C","scen":"1.5°C-CCS","year":2065,"val":14.5},{"region":"India","var":"C","scen":"1.5°C-CCS","year":2070,"val":14.5},{"region":"India","var":"C","scen":"1.5°C-CCS","year":2075,"val":13.9},{"region":"India","var":"C","scen":"1.5°C-CCS","year":2080,"val":12.8},{"region":"India","var":"C","scen":"1.5°C-CCS","year":2085,"val":11.8},{"region":"India","var":"C","scen":"1.5°C-CCS","year":2090,"val":11.1},{"region":"India","var":"C","scen":"1.5°C-CCS","year":2095,"val":10.6},
{"region":"India","var":"C","scen":"NDC-LTT-CCS","year":2015,"val":13},{"region":"India","var":"C","scen":"NDC-LTT-CCS","year":2020,"val":17.5},{"region":"India","var":"C","scen":"NDC-LTT-CCS","year":2025,"val":16.9},{"region":"India","var":"C","scen":"NDC-LTT-CCS","year":2030,"val":19.1},{"region":"India","var":"C","scen":"NDC-LTT-CCS","year":2035,"val":29.6},{"region":"India","var":"C","scen":"NDC-LTT-CCS","year":2040,"val":25.6},{"region":"India","var":"C","scen":"NDC-LTT-CCS","year":2045,"val":24.5},{"region":"India","var":"C","scen":"NDC-LTT-CCS","year":2050,"val":24.8},{"region":"India","var":"C","scen":"NDC-LTT-CCS","year":2055,"val":28},{"region":"India","var":"C","scen":"NDC-LTT-CCS","year":2060,"val":32.1},{"region":"India","var":"C","scen":"NDC-LTT-CCS","year":2065,"val":33.1},{"region":"India","var":"C","scen":"NDC-LTT-CCS","year":2070,"val":27.9},{"region":"India","var":"C","scen":"NDC-LTT-CCS","year":2075,"val":22.8},{"region":"India","var":"C","scen":"NDC-LTT-CCS","year":2080,"val":19.5},{"region":"India","var":"C","scen":"NDC-LTT-CCS","year":2085,"val":17.6},{"region":"India","var":"C","scen":"NDC-LTT-CCS","year":2090,"val":16.3},{"region":"India","var":"C","scen":"NDC-LTT-CCS","year":2095,"val":14.7},
{"region":"India","var":"C","scen":"Historical data","year":2005,"val":6.9},{"region":"India","var":"C","scen":"Historical data","year":2006,"val":7.2},{"region":"India","var":"C","scen":"Historical data","year":2007,"val":7.7},{"region":"India","var":"C","scen":"Historical data","year":2008,"val":8.3},{"region":"India","var":"C","scen":"Historical data","year":2009,"val":8.9},{"region":"India","var":"C","scen":"Historical data","year":2010,"val":8.9},{"region":"India","var":"C","scen":"Historical data","year":2011,"val":9.4},{"region":"India","var":"C","scen":"Historical data","year":2012,"val":9.85},{"region":"India","var":"C","scen":"Historical data","year":2013,"val":10.0},{"region":"India","var":"C","scen":"Historical data","year":2014,"val":10.7},{"region":"India","var":"C","scen":"Historical data","year":2015,"val":11.1},{"region":"India","var":"C","scen":"Historical data","year":2016,"val":11.2},{"region":"India","var":"C","scen":"Historical data","year":2017,"val":11.4},{"region":"India","var":"C","scen":"Historical data","year":2018,"val":12.0},{"region":"India","var":"C","scen":"Historical data","year":2019,"val":11.9},{"region":"India","var":"C","scen":"Historical data","year":2020,"val":11.5},{"region":"India","var":"C","scen":"Historical data","year":2021,"val":12.8},{"region":"India","var":"C","scen":"Historical data","year":2022,"val":14.5},
{"region":"India","var":"C","scen":"Planned production","year":2022,"val":14.6},{"region":"India","var":"C","scen":"Planned production","year":2023,"val":18},{"region":"India","var":"C","scen":"Planned production","year":2024,"val":20.5},{"region":"India","var":"C","scen":"Planned production","year":2025,"val":23.2},{"region":"India","var":"C","scen":"Planned production","year":2026,"val":24.5},{"region":"India","var":"C","scen":"Planned production","year":2027,"val":25.6},{"region":"India","var":"C","scen":"Planned production","year":2028,"val":26.2},{"region":"India","var":"C","scen":"Planned production","year":2029,"val":26.6},{"region":"India","var":"C","scen":"Planned production","year":2030,"val":27}
]},
"columns":3,
"spacing":{"row":34,"column":148},
"bounds":"flush",
"concat":[
{"width":477,"height":352,"title":"World","layer":[
 {"data":{"name":"d"},"transform":[{"filter":"datum.region==='World' && datum.var==='E'"}],"mark":{"type":"line","strokeCap":"butt"},
  "encoding":{"x":{"field":"year","type":"quantitative","scale":{"domain":[2005,2100],"nice":false,"zero":false},"axis":null},
   "y":{"field":"val","type":"quantitative","scale":{"domain":[-7200,45000],"nice":false,"zero":false},"axis":{"values":[0,20000,40000],"title":["Emissions","MtCO2/yr"]}},
   "color":{"field":"scen","type":"nominal","scale":{"domain":["1.5°C","1.5°C-CCS","Historical data","NDC-LTT","NDC-LTT-CCS","Planned production","NPi"],"range":["#20b2aa","#9acd32","#000000","#ff6347","#db7093","#ff0000","#4682b4"]},"legend":{"orient":"none","direction":"horizontal","legendX":298,"legendY":842,"columns":3,"title":null,"values":["1.5°C","1.5°C-CCS","Historical data","NDC-LTT","NDC-LTT-CCS","Planned production","NPi"]}},
   "strokeDash":{"field":"scen","type":"nominal","scale":{"domain":["1.5°C","1.5°C-CCS","Historical data","NDC-LTT","NDC-LTT-CCS","Planned production","NPi"],"range":[[1,0],[1,0],[1,0],[1,0],[1,0],[13,7],[1,0]]},"legend":{"orient":"none","direction":"horizontal","legendX":298,"legendY":842,"columns":3,"title":null,"values":["1.5°C","1.5°C-CCS","Historical data","NDC-LTT","NDC-LTT-CCS","Planned production","NPi"]}},
   "strokeWidth":{"condition":{"test":"datum.scen==='Historical data'","value":2.8},"value":3.8}}},
 {"data":{"values":[{}]},"mark":{"type":"rule","color":"black","strokeWidth":2.5},"encoding":{"y":{"datum":0}}}]},
{"width":477,"height":352,"title":"China","layer":[
 {"data":{"name":"d"},"transform":[{"filter":"datum.region==='China' && datum.var==='E'"}],"mark":{"type":"line","strokeCap":"butt"},
  "encoding":{"x":{"field":"year","type":"quantitative","scale":{"domain":[2005,2100],"nice":false,"zero":false},"axis":null},
   "y":{"field":"val","type":"quantitative","scale":{"domain":[-3760,14030],"nice":false,"zero":false},"axis":{"values":[0,5000,10000],"title":null}},
   "color":{"field":"scen","type":"nominal","scale":{"domain":["1.5°C","1.5°C-CCS","Historical data","NDC-LTT","NDC-LTT-CCS","Planned production","NPi"],"range":["#20b2aa","#9acd32","#000000","#ff6347","#db7093","#ff0000","#4682b4"]}},
   "strokeDash":{"field":"scen","type":"nominal","scale":{"domain":["1.5°C","1.5°C-CCS","Historical data","NDC-LTT","NDC-LTT-CCS","Planned production","NPi"],"range":[[1,0],[1,0],[1,0],[1,0],[1,0],[13,7],[1,0]]}},
   "strokeWidth":{"condition":{"test":"datum.scen==='Historical data'","value":2.8},"value":3.8}}},
 {"data":{"values":[{}]},"mark":{"type":"rule","color":"black","strokeWidth":2.5},"encoding":{"y":{"datum":0}}}]},
{"width":477,"height":352,"title":"India","layer":[
 {"data":{"name":"d"},"transform":[{"filter":"datum.region==='India' && datum.var==='E'"}],"mark":{"type":"line","strokeCap":"butt"},
  "encoding":{"x":{"field":"year","type":"quantitative","scale":{"domain":[2005,2100],"nice":false,"zero":false},"axis":null},
   "y":{"field":"val","type":"quantitative","scale":{"domain":[-1000,3605],"nice":false,"zero":false},"axis":{"values":[-1000,0,1000,2000,3000],"title":null}},
   "color":{"field":"scen","type":"nominal","scale":{"domain":["1.5°C","1.5°C-CCS","Historical data","NDC-LTT","NDC-LTT-CCS","Planned production","NPi"],"range":["#20b2aa","#9acd32","#000000","#ff6347","#db7093","#ff0000","#4682b4"]}},
   "strokeDash":{"field":"scen","type":"nominal","scale":{"domain":["1.5°C","1.5°C-CCS","Historical data","NDC-LTT","NDC-LTT-CCS","Planned production","NPi"],"range":[[1,0],[1,0],[1,0],[1,0],[1,0],[13,7],[1,0]]}},
   "strokeWidth":{"condition":{"test":"datum.scen==='Historical data'","value":2.8},"value":3.8}}},
 {"data":{"values":[{}]},"mark":{"type":"rule","color":"black","strokeWidth":2.5},"encoding":{"y":{"datum":0}}}]},
{"width":477,"height":352,"layer":[
 {"data":{"name":"d"},"transform":[{"filter":"datum.region==='World' && datum.var==='C'"}],"mark":{"type":"line","strokeCap":"butt"},
  "encoding":{"x":{"field":"year","type":"quantitative","scale":{"domain":[2005,2100],"nice":false,"zero":false},"axis":{"values":[2025,2050,2075,2100],"title":null}},
   "y":{"field":"val","type":"quantitative","scale":{"domain":[-10.3,215.6],"nice":false,"zero":false},"axis":{"values":[0,50,100,150,200],"title":["Coal extraction","EJ/yr"]}},
   "color":{"field":"scen","type":"nominal","scale":{"domain":["1.5°C","1.5°C-CCS","Historical data","NDC-LTT","NDC-LTT-CCS","Planned production","NPi"],"range":["#20b2aa","#9acd32","#000000","#ff6347","#db7093","#ff0000","#4682b4"]}},
   "strokeDash":{"field":"scen","type":"nominal","scale":{"domain":["1.5°C","1.5°C-CCS","Historical data","NDC-LTT","NDC-LTT-CCS","Planned production","NPi"],"range":[[1,0],[1,0],[1,0],[1,0],[1,0],[13,7],[1,0]]}},
   "strokeWidth":{"condition":{"test":"datum.scen==='Historical data'","value":2.8},"value":3.8}}},
 {"data":{"values":[{}]},"mark":{"type":"rule","color":"black","strokeWidth":2.5},"encoding":{"y":{"datum":0}}}]},
{"width":477,"height":352,"layer":[
 {"data":{"name":"d"},"transform":[{"filter":"datum.region==='China' && datum.var==='C'"}],"mark":{"type":"line","strokeCap":"butt"},
  "encoding":{"x":{"field":"year","type":"quantitative","scale":{"domain":[2005,2100],"nice":false,"zero":false},"axis":{"values":[2025,2050,2075,2100],"title":null}},
   "y":{"field":"val","type":"quantitative","scale":{"domain":[-5,104.1],"nice":false,"zero":false},"axis":{"values":[0,25,50,75,100],"title":null}},
   "color":{"field":"scen","type":"nominal","scale":{"domain":["1.5°C","1.5°C-CCS","Historical data","NDC-LTT","NDC-LTT-CCS","Planned production","NPi"],"range":["#20b2aa","#9acd32","#000000","#ff6347","#db7093","#ff0000","#4682b4"]}},
   "strokeDash":{"field":"scen","type":"nominal","scale":{"domain":["1.5°C","1.5°C-CCS","Historical data","NDC-LTT","NDC-LTT-CCS","Planned production","NPi"],"range":[[1,0],[1,0],[1,0],[1,0],[1,0],[13,7],[1,0]]}},
   "strokeWidth":{"condition":{"test":"datum.scen==='Historical data'","value":2.8},"value":3.8}}},
 {"data":{"values":[{}]},"mark":{"type":"rule","color":"black","strokeWidth":2.5},"encoding":{"y":{"datum":0}}}]},
{"width":477,"height":352,"layer":[
 {"data":{"name":"d"},"transform":[{"filter":"datum.region==='India' && datum.var==='C'"}],"mark":{"type":"line","strokeCap":"butt"},
  "encoding":{"x":{"field":"year","type":"quantitative","scale":{"domain":[2005,2100],"nice":false,"zero":false},"axis":{"values":[2025,2050,2075,2100],"title":null}},
   "y":{"field":"val","type":"quantitative","scale":{"domain":[-1.66,34.75],"nice":false,"zero":false},"axis":{"values":[0,10,20,30],"title":null}},
   "color":{"field":"scen","type":"nominal","scale":{"domain":["1.5°C","1.5°C-CCS","Historical data","NDC-LTT","NDC-LTT-CCS","Planned production","NPi"],"range":["#20b2aa","#9acd32","#000000","#ff6347","#db7093","#ff0000","#4682b4"]}},
   "strokeDash":{"field":"scen","type":"nominal","scale":{"domain":["1.5°C","1.5°C-CCS","Historical data","NDC-LTT","NDC-LTT-CCS","Planned production","NPi"],"range":[[1,0],[1,0],[1,0],[1,0],[1,0],[13,7],[1,0]]}},
   "strokeWidth":{"condition":{"test":"datum.scen==='Historical data'","value":2.8},"value":3.8}}},
 {"data":{"values":[{}]},"mark":{"type":"rule","color":"black","strokeWidth":2.5},"encoding":{"y":{"datum":0}}}]}
]
}
